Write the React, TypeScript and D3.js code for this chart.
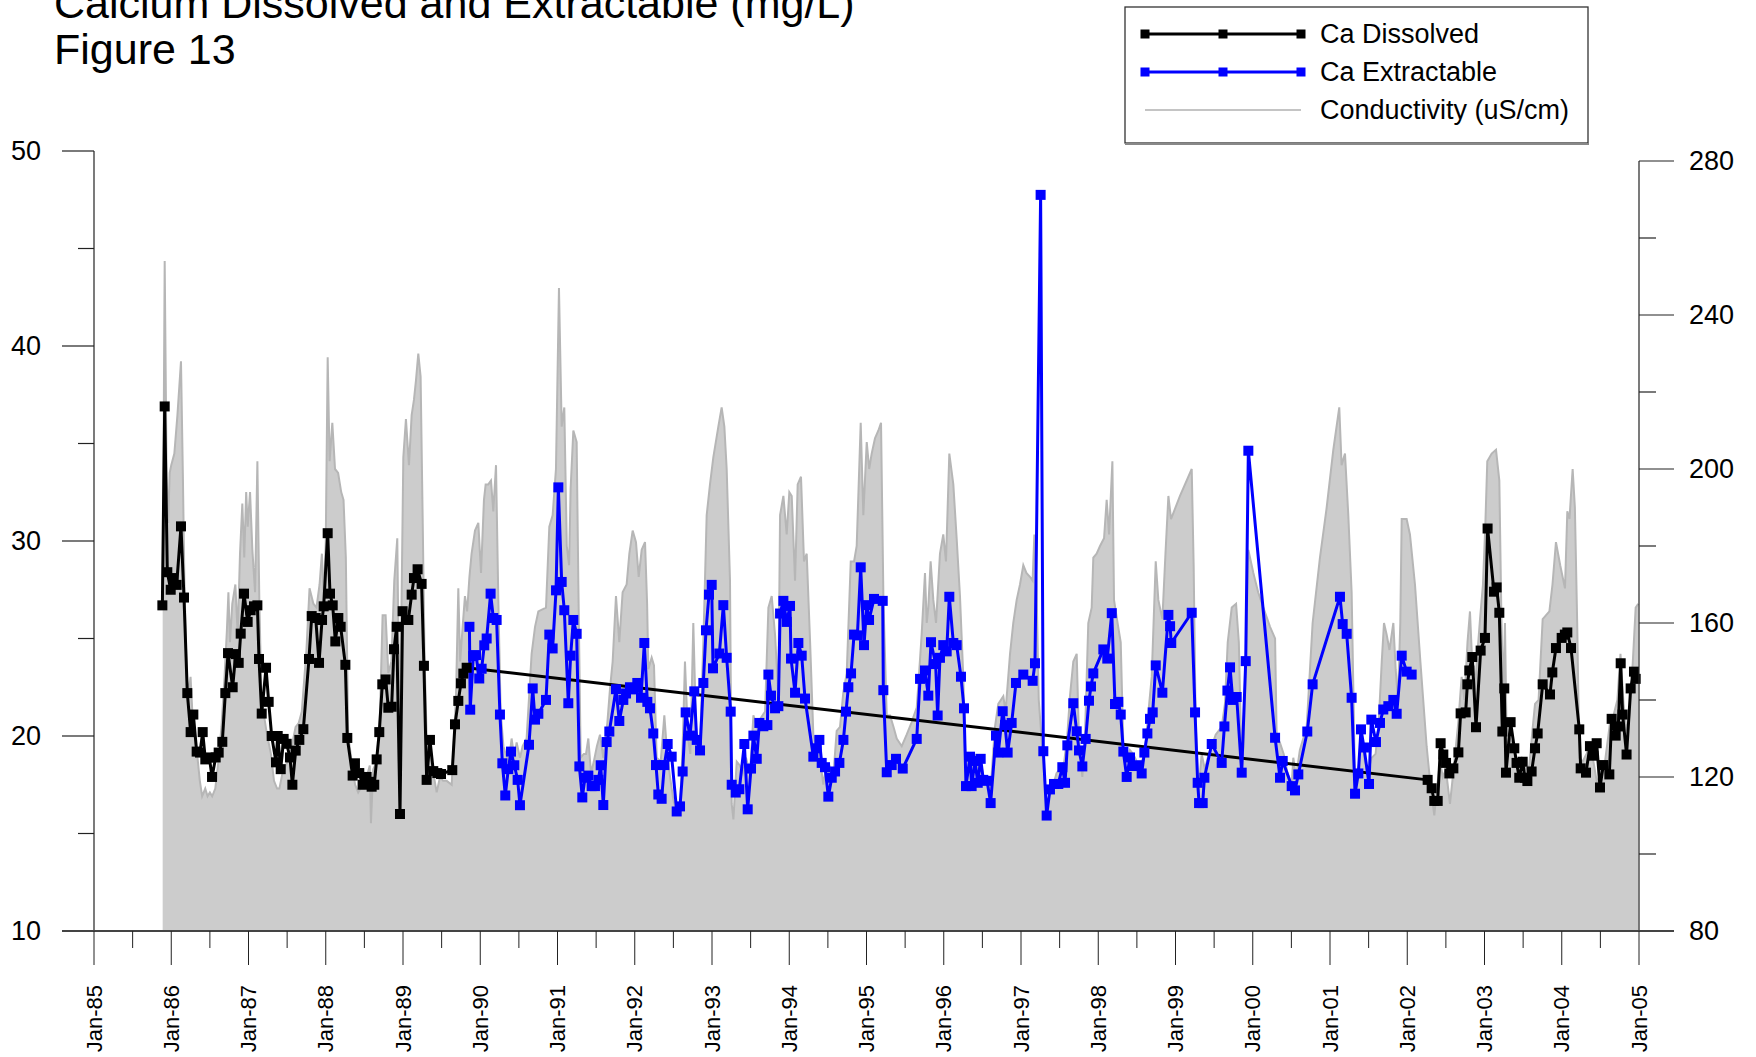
import React from "react";
import * as d3 from "d3";

// [decimal year, mg/L]
const caDissolved: [number, number][] = [
  [1985.885, 26.7], [1985.915, 36.9], [1985.949, 28.4], [1985.993, 27.5], [1986.027, 28.1], [1986.07, 27.75],
  [1986.126, 30.75], [1986.165, 27.1], [1986.208, 22.2], [1986.251, 20.2], [1986.286, 21.1], [1986.329, 19.2],
  [1986.372, 19.15], [1986.407, 20.2], [1986.441, 18.8], [1986.493, 18.9], [1986.528, 17.9], [1986.575, 18.9],
  [1986.614, 19.15], [1986.661, 19.7], [1986.7, 22.2], [1986.735, 24.25], [1986.795, 22.5], [1986.834, 24.2],
  [1986.873, 23.75], [1986.899, 25.25], [1986.942, 27.3], [1986.989, 25.85], [1987.028, 26.45], [1987.071, 26.65],
  [1987.115, 26.7], [1987.136, 23.95], [1987.171, 21.15], [1987.227, 23.5], [1987.261, 21.75], [1987.3, 20.0],
  [1987.356, 18.65], [1987.378, 20.0], [1987.417, 18.3], [1987.455, 19.85], [1987.494, 19.6], [1987.537, 18.9],
  [1987.568, 17.5], [1987.611, 19.25], [1987.658, 19.8], [1987.71, 20.35], [1987.783, 23.95], [1987.818, 26.15],
  [1987.87, 26.05], [1987.913, 23.75], [1987.952, 25.95], [1987.973, 26.65], [1988.025, 30.4], [1988.055, 27.3],
  [1988.09, 26.7], [1988.124, 24.85], [1988.163, 26.05], [1988.193, 25.6], [1988.254, 23.65], [1988.279, 19.9],
  [1988.348, 17.97], [1988.378, 18.6], [1988.434, 18.1], [1988.477, 17.5], [1988.529, 17.9], [1988.564, 17.65],
  [1988.594, 17.4], [1988.628, 17.5], [1988.659, 18.8], [1988.693, 20.2], [1988.732, 22.65], [1988.775, 22.9],
  [1988.81, 21.45], [1988.853, 21.5], [1988.883, 24.45], [1988.918, 25.6], [1988.961, 16.0], [1988.995, 26.4],
  [1989.069, 25.95], [1989.112, 27.25], [1989.142, 28.1], [1989.189, 28.55], [1989.241, 27.8], [1989.271, 23.6],
  [1989.306, 17.75], [1989.349, 19.8], [1989.392, 18.2], [1989.444, 18.1], [1989.492, 18.05], [1989.638, 18.25],
  [1989.673, 20.6], [1989.716, 21.8], [1989.75, 22.7], [1989.781, 23.2], [1989.824, 23.5],
  [2002.264, 17.75], [2002.316, 17.32], [2002.35, 16.67], [2002.394, 16.67], [2002.432, 19.63], [2002.467, 19.05],
  [2002.502, 18.62], [2002.545, 18.08], [2002.597, 18.34], [2002.662, 19.16], [2002.691, 21.16], [2002.756, 21.21],
  [2002.778, 22.65], [2002.803, 23.36], [2002.842, 24.05], [2002.89, 20.45], [2002.95, 24.38], [2003.006, 25.03],
  [2003.04, 30.64], [2003.123, 27.4], [2003.157, 27.62], [2003.192, 26.32], [2003.231, 20.23], [2003.256, 22.44],
  [2003.278, 18.12], [2003.338, 20.71], [2003.386, 19.37], [2003.415, 18.62], [2003.45, 17.86], [2003.494, 18.68],
  [2003.524, 17.86], [2003.555, 17.69], [2003.61, 18.18], [2003.654, 19.37], [2003.688, 20.13], [2003.753, 22.65],
  [2003.848, 22.13], [2003.878, 23.26], [2003.925, 24.51], [2003.999, 25.03], [2004.04, 25.2], [2004.072, 25.31],
  [2004.12, 24.51], [2004.227, 20.34], [2004.245, 18.34], [2004.314, 18.12], [2004.365, 19.48], [2004.409, 18.99],
  [2004.452, 19.63], [2004.495, 17.36], [2004.538, 18.51], [2004.616, 18.03], [2004.646, 20.88], [2004.698, 20.02],
  [2004.732, 20.49], [2004.763, 23.73], [2004.788, 21.1], [2004.839, 19.05], [2004.892, 22.44], [2004.935, 23.3],
  [2004.957, 22.93],
];

// [decimal year, mg/L]
const caExtractable: [number, number][] = [
  [1989.86, 25.6], [1989.87, 21.35], [1989.91, 24.1], [1989.945, 24.15], [1989.987, 22.95], [1990.018, 23.45],
  [1990.052, 24.65], [1990.083, 25.0], [1990.134, 27.3], [1990.169, 26.05], [1990.212, 25.95], [1990.255, 21.1],
  [1990.286, 18.6], [1990.324, 16.95], [1990.363, 18.3], [1990.398, 19.2], [1990.441, 18.5], [1990.484, 17.75],
  [1990.514, 16.45], [1990.631, 19.55], [1990.679, 22.44], [1990.709, 20.84], [1990.752, 21.14], [1990.851, 21.85],
  [1990.894, 25.2], [1990.937, 24.49], [1990.981, 27.47], [1991.011, 32.75], [1991.054, 27.9], [1991.088, 26.45],
  [1991.14, 21.68], [1991.17, 24.12], [1991.205, 25.95], [1991.248, 25.24], [1991.283, 18.44], [1991.321, 16.85],
  [1991.356, 17.86], [1991.399, 17.97], [1991.442, 17.43], [1991.485, 17.43], [1991.529, 17.75], [1991.559, 18.5],
  [1991.593, 16.46], [1991.636, 19.69], [1991.671, 20.23], [1991.757, 22.4], [1991.8, 20.77], [1991.852, 21.85],
  [1991.887, 22.18], [1991.938, 22.5], [1991.982, 22.39], [1992.033, 22.72], [1992.081, 21.96], [1992.124, 24.77],
  [1992.163, 21.75], [1992.197, 21.42], [1992.24, 20.13], [1992.275, 18.51], [1992.305, 17.0], [1992.348, 16.78],
  [1992.383, 18.51], [1992.426, 19.59], [1992.478, 18.94], [1992.543, 16.13], [1992.586, 16.39], [1992.62, 18.18],
  [1992.659, 21.21], [1992.715, 20.02], [1992.771, 22.29], [1992.802, 19.8], [1992.845, 19.26], [1992.888, 22.72],
  [1992.922, 25.42], [1992.961, 27.25], [1992.996, 27.75], [1993.013, 23.47], [1993.095, 24.23], [1993.147, 26.71],
  [1993.19, 24.01], [1993.242, 21.25], [1993.255, 17.5], [1993.307, 17.1], [1993.354, 17.27], [1993.419, 19.59],
  [1993.462, 16.24], [1993.505, 18.33], [1993.536, 20.02], [1993.579, 18.83], [1993.613, 20.67], [1993.665, 20.5],
  [1993.717, 20.56], [1993.73, 23.15], [1993.764, 22.07], [1993.816, 21.42], [1993.859, 21.53], [1993.881, 26.28],
  [1993.924, 26.93], [1993.967, 25.85], [1994.01, 26.67], [1994.023, 23.97], [1994.075, 22.22], [1994.118, 24.77],
  [1994.161, 24.12], [1994.204, 21.92], [1994.312, 18.94], [1994.355, 19.37], [1994.39, 19.8], [1994.42, 18.62],
  [1994.463, 18.4], [1994.506, 16.89], [1994.55, 17.86], [1994.593, 18.18], [1994.649, 18.62], [1994.701, 19.8],
  [1994.735, 21.25], [1994.765, 22.5], [1994.8, 23.21], [1994.839, 25.2], [1994.882, 25.16], [1994.925, 28.65],
  [1994.968, 24.66], [1995.003, 26.71], [1995.033, 25.95], [1995.097, 27.03], [1995.21, 26.93], [1995.218, 22.35],
  [1995.262, 18.14], [1995.326, 18.51], [1995.382, 18.83], [1995.469, 18.33], [1995.65, 19.85], [1995.693, 22.93],
  [1995.757, 23.36], [1995.8, 22.07], [1995.835, 24.81], [1995.895, 23.69], [1995.921, 21.05], [1995.951, 24.01],
  [1995.994, 24.66], [1996.038, 24.34], [1996.072, 27.14], [1996.124, 24.77], [1996.167, 24.66], [1996.223, 23.04],
  [1996.262, 21.42], [1996.288, 17.43], [1996.34, 18.94], [1996.361, 17.43], [1996.404, 18.72], [1996.44, 17.6],
  [1996.478, 18.83], [1996.512, 17.75], [1996.56, 17.7], [1996.607, 16.56], [1996.676, 20.02], [1996.706, 19.15],
  [1996.763, 21.27], [1996.793, 20.56], [1996.827, 19.15], [1996.879, 20.67], [1996.935, 22.72], [1997.03, 23.15],
  [1997.151, 22.83], [1997.181, 23.73], [1997.254, 47.75], [1997.289, 19.22], [1997.332, 15.92], [1997.375, 17.26],
  [1997.427, 17.54], [1997.483, 17.54], [1997.535, 18.4], [1997.57, 17.6], [1997.6, 19.52], [1997.677, 21.68],
  [1997.721, 20.24], [1997.751, 19.26], [1997.794, 18.44], [1997.837, 19.85], [1997.88, 21.81], [1997.906, 22.54],
  [1997.936, 23.21], [1998.066, 24.44], [1998.117, 23.97], [1998.175, 26.3], [1998.217, 21.64], [1998.26, 21.75],
  [1998.291, 21.1], [1998.325, 19.2], [1998.368, 17.9], [1998.411, 18.9], [1998.455, 18.46], [1998.51, 18.5],
  [1998.562, 18.08], [1998.597, 19.15], [1998.636, 20.13], [1998.67, 20.88], [1998.705, 21.21], [1998.744, 23.62],
  [1998.83, 22.22], [1998.908, 26.21], [1998.93, 25.63], [1998.945, 24.77], [1999.21, 26.32], [1999.253, 21.21],
  [1999.287, 17.6], [1999.305, 16.56], [1999.352, 16.56], [1999.374, 17.86], [1999.469, 19.59], [1999.598, 18.62],
  [1999.633, 20.49], [1999.672, 22.33], [1999.706, 23.52], [1999.741, 21.85], [1999.792, 22.0], [1999.857, 18.12],
  [1999.909, 23.84], [1999.943, 34.63], [2000.289, 19.91], [2000.353, 17.86], [2000.388, 18.72], [2000.504, 17.43],
  [2000.547, 17.21], [2000.59, 18.03], [2000.706, 20.23], [2000.775, 22.65], [2001.129, 27.14], [2001.164, 25.74],
  [2001.216, 25.24], [2001.28, 21.96], [2001.324, 17.04], [2001.367, 18.08], [2001.401, 20.34], [2001.44, 19.41],
  [2001.505, 17.54], [2001.535, 20.84], [2001.595, 19.69], [2001.647, 20.67], [2001.69, 21.36], [2001.755, 21.53],
  [2001.82, 21.85], [2001.863, 21.14], [2001.928, 24.12], [2001.992, 23.3], [2002.057, 23.15],
];

// [decimal year, uS/cm]
const conductivity: [number, number][] = [
  [1985.889, 166], [1985.915, 254], [1985.94, 198], [1985.96, 186], [1985.98, 199], [1986.0, 201], [1986.04, 204],
  [1986.08, 214], [1986.126, 228], [1986.15, 199], [1986.17, 171], [1986.2, 146], [1986.225, 142], [1986.25, 146],
  [1986.28, 134], [1986.33, 127], [1986.37, 119], [1986.4, 115], [1986.44, 117], [1986.47, 115], [1986.5, 116],
  [1986.53, 115], [1986.57, 117], [1986.61, 124], [1986.65, 133], [1986.69, 146], [1986.72, 158], [1986.74, 168],
  [1986.76, 155], [1986.79, 165], [1986.83, 170], [1986.86, 157], [1986.89, 178], [1986.92, 191], [1986.945, 177],
  [1986.97, 194], [1986.99, 185], [1987.02, 194], [1987.05, 179], [1987.085, 168], [1987.115, 202], [1987.14, 166],
  [1987.17, 138], [1987.2, 136], [1987.24, 131], [1987.29, 126], [1987.33, 119], [1987.37, 117], [1987.4, 117],
  [1987.44, 121], [1987.48, 123], [1987.51, 124], [1987.56, 128], [1987.61, 133], [1987.65, 134], [1987.69, 137],
  [1987.75, 153], [1987.79, 169], [1987.84, 165], [1987.88, 164], [1987.92, 170], [1987.95, 178], [1987.975, 166],
  [1988.0, 181], [1988.025, 229], [1988.05, 202], [1988.085, 212], [1988.12, 200], [1988.16, 199], [1988.2, 194],
  [1988.23, 192], [1988.26, 177], [1988.29, 131], [1988.335, 124], [1988.38, 118], [1988.42, 116], [1988.45, 117],
  [1988.49, 117], [1988.53, 120], [1988.57, 123], [1988.585, 108], [1988.615, 122], [1988.66, 124], [1988.7, 135],
  [1988.736, 162], [1988.775, 162], [1988.81, 147], [1988.85, 150], [1988.887, 171], [1988.926, 182], [1988.95, 140],
  [1988.975, 155], [1989.004, 203], [1989.038, 213], [1989.077, 201], [1989.112, 214], [1989.142, 218],
  [1989.168, 223], [1989.198, 230], [1989.228, 224], [1989.254, 188], [1989.28, 150], [1989.315, 124],
  [1989.35, 126], [1989.384, 122], [1989.436, 116], [1989.479, 120], [1989.52, 119], [1989.565, 119], [1989.63, 118],
  [1989.66, 130], [1989.686, 141], [1989.716, 169], [1989.74, 150], [1989.772, 159], [1989.802, 167], [1989.83, 163],
  [1989.86, 172], [1989.888, 178], [1989.932, 184], [1989.975, 186], [1990.01, 173], [1990.048, 192], [1990.07, 196],
  [1990.104, 196], [1990.139, 197], [1990.169, 189], [1990.204, 201], [1990.234, 166], [1990.264, 137], [1990.3, 128],
  [1990.329, 126], [1990.37, 124], [1990.406, 130], [1990.44, 125], [1990.471, 129], [1990.514, 125], [1990.549, 128],
  [1990.6, 130], [1990.665, 152], [1990.709, 159], [1990.752, 163], [1990.851, 164], [1990.894, 185], [1990.937, 188],
  [1990.98, 200], [1991.019, 247], [1991.054, 211], [1991.088, 216], [1991.12, 180], [1991.15, 175], [1991.17, 195],
  [1991.205, 210], [1991.248, 207], [1991.27, 170], [1991.3, 125], [1991.34, 126], [1991.369, 126], [1991.399, 130],
  [1991.434, 121], [1991.47, 124], [1991.51, 128], [1991.55, 131], [1991.593, 125], [1991.645, 134], [1991.68, 143],
  [1991.714, 150], [1991.757, 167], [1991.8, 155], [1991.843, 168], [1991.895, 170], [1991.93, 178], [1991.973, 184],
  [1992.016, 181], [1992.051, 172], [1992.09, 179], [1992.133, 181], [1992.16, 165], [1992.176, 148], [1992.219, 151],
  [1992.249, 149], [1992.284, 125], [1992.336, 124], [1992.383, 136], [1992.42, 126], [1992.457, 120], [1992.5, 114],
  [1992.543, 111], [1992.586, 112], [1992.62, 128], [1992.65, 150], [1992.69, 130], [1992.72, 126], [1992.758, 160],
  [1992.8, 128], [1992.845, 128], [1992.888, 155], [1992.931, 188], [1992.974, 196], [1993.017, 203], [1993.082, 211],
  [1993.125, 216], [1993.16, 211], [1993.19, 200], [1993.233, 171], [1993.255, 113], [1993.277, 109], [1993.32, 124],
  [1993.36, 123], [1993.4, 121], [1993.44, 125], [1993.492, 121], [1993.536, 136], [1993.58, 133], [1993.622, 135],
  [1993.687, 137], [1993.73, 164], [1993.773, 167], [1993.816, 157], [1993.859, 141], [1993.881, 188], [1993.924, 193],
  [1993.967, 183], [1994.001, 194], [1994.032, 193], [1994.075, 171], [1994.109, 196], [1994.152, 198],
  [1994.191, 176], [1994.226, 178], [1994.27, 155], [1994.312, 131], [1994.35, 128], [1994.39, 126], [1994.441, 118],
  [1994.48, 123], [1994.52, 123], [1994.57, 120], [1994.614, 132], [1994.657, 133], [1994.7, 142], [1994.744, 147],
  [1994.796, 176], [1994.839, 176], [1994.873, 180], [1994.925, 212], [1994.959, 188], [1995.003, 207],
  [1995.035, 200], [1995.067, 204], [1995.11, 208], [1995.154, 210], [1995.188, 212], [1995.22, 165], [1995.262, 136],
  [1995.305, 136], [1995.35, 133], [1995.391, 130], [1995.456, 128], [1995.52, 131], [1995.58, 134], [1995.65, 138],
  [1995.671, 144], [1995.714, 157], [1995.757, 173], [1995.78, 160], [1995.8, 164], [1995.83, 176], [1995.865, 166],
  [1995.9, 160], [1995.951, 178], [1995.994, 183], [1996.029, 176], [1996.072, 204], [1996.124, 196], [1996.167, 182],
  [1996.21, 167], [1996.253, 146], [1996.28, 125], [1996.318, 126], [1996.36, 123], [1996.4, 126], [1996.44, 122],
  [1996.48, 124], [1996.512, 120], [1996.56, 118], [1996.607, 117], [1996.663, 133], [1996.706, 139], [1996.771, 141],
  [1996.8, 137], [1996.858, 152], [1996.9, 160], [1996.944, 166], [1996.987, 170], [1997.03, 175], [1997.07, 173],
  [1997.116, 172], [1997.15, 171], [1997.173, 183], [1997.2, 170], [1997.23, 140], [1997.28, 126], [1997.332, 112],
  [1997.37, 115], [1997.418, 118], [1997.46, 121], [1997.5, 122], [1997.56, 124], [1997.6, 131], [1997.634, 141],
  [1997.677, 150], [1997.721, 152], [1997.75, 130], [1997.794, 120], [1997.83, 132], [1997.871, 160], [1997.915, 164],
  [1997.936, 177], [1997.979, 178], [1998.023, 180], [1998.075, 182], [1998.109, 192], [1998.14, 183],
  [1998.183, 202], [1998.204, 166], [1998.25, 160], [1998.291, 155], [1998.325, 128], [1998.37, 124], [1998.41, 127],
  [1998.45, 126], [1998.5, 124], [1998.562, 124], [1998.6, 126], [1998.65, 137], [1998.692, 146], [1998.744, 176],
  [1998.778, 166], [1998.83, 161], [1998.87, 178], [1998.908, 193], [1998.942, 187], [1999.058, 193], [1999.21, 200],
  [1999.235, 175], [1999.261, 134], [1999.296, 116], [1999.339, 126], [1999.38, 122], [1999.43, 126], [1999.47, 128],
  [1999.52, 131], [1999.598, 133], [1999.64, 139], [1999.676, 155], [1999.728, 164], [1999.784, 165], [1999.82, 155],
  [1999.857, 122], [1999.88, 128], [1999.91, 150], [1999.943, 179], [2000.008, 173], [2000.07, 168], [2000.137, 164],
  [2000.224, 159], [2000.289, 156], [2000.31, 130], [2000.35, 129], [2000.4, 126], [2000.45, 121], [2000.504, 118],
  [2000.525, 125], [2000.56, 120], [2000.61, 127], [2000.698, 133], [2000.775, 160], [2000.87, 177], [2000.957, 190],
  [2001.043, 205], [2001.12, 216], [2001.15, 201], [2001.194, 204], [2001.237, 188], [2001.28, 168], [2001.324, 118],
  [2001.37, 122], [2001.41, 132], [2001.45, 124], [2001.5, 122], [2001.54, 125], [2001.59, 126], [2001.63, 134],
  [2001.67, 150], [2001.699, 160], [2001.733, 157], [2001.77, 153], [2001.82, 160], [2001.85, 148], [2001.88, 140],
  [2001.91, 160], [2001.928, 187], [2001.992, 187], [2002.035, 183], [2002.1, 170], [2002.17, 150], [2002.251, 128],
  [2002.3, 118], [2002.35, 110], [2002.39, 118], [2002.424, 124], [2002.46, 120], [2002.5, 122], [2002.553, 113],
  [2002.6, 122], [2002.66, 134], [2002.704, 146], [2002.74, 140], [2002.78, 155], [2002.812, 163], [2002.84, 150],
  [2002.87, 140], [2002.9, 150], [2002.942, 161], [2002.98, 170], [2003.01, 185], [2003.036, 202], [2003.093, 204],
  [2003.149, 205], [2003.192, 197], [2003.22, 160], [2003.243, 141], [2003.265, 160], [2003.29, 125], [2003.33, 130],
  [2003.38, 127], [2003.43, 124], [2003.48, 125], [2003.53, 122], [2003.58, 123], [2003.62, 132], [2003.654, 139],
  [2003.7, 140], [2003.753, 161], [2003.84, 163], [2003.88, 170], [2003.925, 181], [2003.98, 175], [2004.042, 169],
  [2004.072, 189], [2004.1, 187], [2004.141, 200], [2004.17, 190], [2004.2, 160], [2004.227, 125], [2004.27, 124],
  [2004.32, 126], [2004.365, 128], [2004.41, 124], [2004.46, 118], [2004.5, 122], [2004.56, 124], [2004.624, 134],
  [2004.67, 136], [2004.72, 140], [2004.76, 152], [2004.8, 139], [2004.84, 132], [2004.88, 136], [2004.92, 150],
  [2004.957, 164], [2004.99, 165],
];

const xTickYears = [1985, 1986, 1987, 1988, 1989, 1990, 1991, 1992, 1993, 1994, 1995, 1996, 1997, 1998, 1999, 2000, 2001, 2002, 2003, 2004, 2005];
const xTickLabels = ["Jan-85", "Jan-86", "Jan-87", "Jan-88", "Jan-89", "Jan-90", "Jan-91", "Jan-92", "Jan-93", "Jan-94", "Jan-95", "Jan-96", "Jan-97", "Jan-98", "Jan-99", "Jan-00", "Jan-01", "Jan-02", "Jan-03", "Jan-04", "Jan-05"];
const leftTicks = [10, 20, 30, 40, 50];
const leftMinorTicks = [15, 25, 35, 45];
const rightTicks = [80, 120, 160, 200, 240, 280];
const rightMinorTicks = [100, 140, 180, 220, 260];
const titleLines = ["Calcium Dissolved and Extractable (mg/L)", "Figure 13"];
const legendItems = [
  { label: "Ca Dissolved", color: "#000000", kind: "marker" },
  { label: "Ca Extractable", color: "#0000ff", kind: "marker" },
  { label: "Conductivity (uS/cm)", color: "#c4c4c4", kind: "line" },
];

const W = 1756;
const H = 1057;
const FONT = "'Liberation Sans', Arial, Helvetica, sans-serif";

export default function App() {
  const left = 94, right = 1639, bottom = 931, topL = 151, topR = 161;
  const x = d3.scaleLinear().domain([1985, 2005]).range([left, right]);
  const yL = d3.scaleLinear().domain([10, 50]).range([bottom, topL]);
  const yR = d3.scaleLinear().domain([80, 280]).range([bottom, topR]);

  const area = d3.area<[number, number]>().x((d) => x(d[0])).y0(yR(80)).y1((d) => yR(d[1]));
  const condLine = d3.line<[number, number]>().x((d) => x(d[0])).y((d) => yR(d[1]));
  const caLine = d3.line<[number, number]>().x((d) => x(d[0])).y((d) => yL(d[1]));

  const ms = 10;
  const lms = 9;
  const lw = 3;
  const minorX = xTickYears.slice(0, -1).map((y) => y + 0.5);

  const legX1 = 1145, legX2 = 1301, legTextX = 1320;
  const legRows = [34, 72, 110];

  return (
    <svg width={W} height={H} style={{ position: "absolute", left: 0, top: 0, background: "#fff" }} fontFamily={FONT}>
      <rect x={0} y={0} width={W} height={H} fill="#fff" />
      {titleLines.map((t, i) => (
        <text key={t} x={54} y={18 + i * 46} fontSize={43} fill="#000">{t}</text>
      ))}

      <path d={area(conductivity) || ""} fill="#cccccc" stroke="none" />
      <path d={condLine(conductivity) || ""} fill="none" stroke="#b6b6b6" strokeWidth={2} />

      <path d={caLine(caDissolved) || ""} fill="none" stroke="#000" strokeWidth={lw} strokeLinejoin="round" />
      <path d={caLine(caExtractable) || ""} fill="none" stroke="#0000ff" strokeWidth={lw} strokeLinejoin="round" />
      {caExtractable.map((d, i) => (
        <rect key={"e" + i} x={x(d[0]) - ms / 2} y={yL(d[1]) - ms / 2} width={ms} height={ms} fill="#0000ff" />
      ))}
      {caDissolved.map((d, i) => (
        <rect key={"d" + i} x={x(d[0]) - ms / 2} y={yL(d[1]) - ms / 2} width={ms} height={ms} fill="#000" />
      ))}

      <line x1={left} x2={left} y1={topL} y2={bottom} stroke="#222" strokeWidth={1.2} />
      {leftTicks.map((t) => (
        <g key={"lt" + t}>
          <line x1={62} x2={left} y1={yL(t)} y2={yL(t)} stroke="#222" strokeWidth={1.2} />
          <text x={41} y={yL(t)} dy="0.35em" textAnchor="end" fontSize={27} fill="#000">{t}</text>
        </g>
      ))}
      {leftMinorTicks.map((t) => (
        <line key={"lm" + t} x1={78} x2={left} y1={yL(t)} y2={yL(t)} stroke="#222" strokeWidth={1.2} />
      ))}

      <line x1={right} x2={right} y1={topR} y2={bottom} stroke="#222" strokeWidth={1.2} />
      {rightTicks.map((t) => (
        <g key={"rt" + t}>
          <line x1={right} x2={1674} y1={yR(t)} y2={yR(t)} stroke="#222" strokeWidth={1.2} />
          <text x={1689} y={yR(t)} dy="0.35em" textAnchor="start" fontSize={27} fill="#000">{t}</text>
        </g>
      ))}
      {rightMinorTicks.map((t) => (
        <line key={"rm" + t} x1={right} x2={1656} y1={yR(t)} y2={yR(t)} stroke="#222" strokeWidth={1.2} />
      ))}

      <line x1={62} x2={1674} y1={bottom} y2={bottom} stroke="#444" strokeWidth={1.8} />
      {xTickYears.map((yr, i) => (
        <g key={"xt" + yr}>
          <line x1={x(yr)} x2={x(yr)} y1={bottom} y2={965} stroke="#222" strokeWidth={1} />
          <text
            transform={`translate(${x(yr)},985) rotate(-90)`}
            dy="0.35em"
            textAnchor="end"
            fontSize={22}
            fill="#000"
          >
            {xTickLabels[i]}
          </text>
        </g>
      ))}
      {minorX.map((yr) => (
        <line key={"xm" + yr} x1={x(yr)} x2={x(yr)} y1={bottom} y2={948} stroke="#222" strokeWidth={1} />
      ))}

      <rect x={1125} y={7} width={463} height={136} fill="#fff" stroke="#333" strokeWidth={1.3} />
      <line x1={1125} x2={1589} y1={144} y2={144} stroke="#888" strokeWidth={2} />
      {legendItems.map((it, i) => (
        <g key={it.label}>
          <line x1={legX1} x2={legX2} y1={legRows[i]} y2={legRows[i]} stroke={it.color} strokeWidth={it.kind === "line" ? 2 : lw} />
          {it.kind === "marker" &&
            [legX1, (legX1 + legX2) / 2, legX2].map((mx) => (
              <rect key={mx} x={mx - lms / 2} y={legRows[i] - lms / 2} width={lms} height={lms} fill={it.color} />
            ))}
          <text x={legTextX} y={legRows[i]} dy="0.35em" fontSize={27} fill="#000">{it.label}</text>
        </g>
      ))}
    </svg>
  );
}
